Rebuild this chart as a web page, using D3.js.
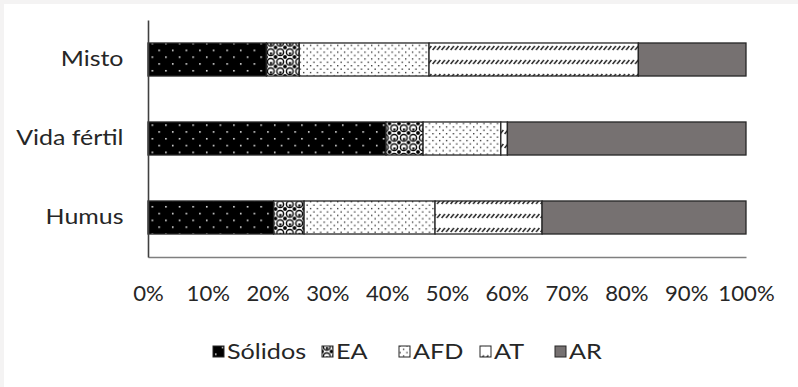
<!DOCTYPE html>
<html>
<head>
<meta charset="utf-8">
<script src="https://cdn.jsdelivr.net/npm/d3@7"></script>
<style>
  html, body { margin: 0; padding: 0; background: #fff; }
  svg { display: block; font-family: Lato, "Open Sans", sans-serif; }
</style>
</head>
<body>
<svg id="chart" width="798" height="387"></svg>
<script>
// Composition of each substrate (share of total volume)
const categories = ["Misto", "Vida fértil", "Humus"];
const seriesNames = ["Sólidos", "EA", "AFD", "AT", "AR"];
const solidos = [19.8, 39.8, 21.0];
const ea      = [5.5, 6.2, 5.1];
const afd     = [21.7, 13.0, 21.9];
const at      = [35.0, 1.1, 17.9];
const ar      = [18.0, 39.9, 34.1];
const tickValues = [0, 0.1, 0.2, 0.3, 0.4, 0.5, 0.6, 0.7, 0.8, 0.9, 1.0];

const seriesValues = [solidos, ea, afd, at, ar];
const rows = categories.map((c, i) => {
  const r = { cat: c };
  seriesNames.forEach((s, k) => r[s] = seriesValues[k][i] / 100);
  return r;
});

const svg = d3.select("#chart");
const W = 798, H = 387;

// page frame
svg.append("rect").attr("width", W).attr("height", H).attr("fill", "#f4f3f3");
svg.append("rect").attr("x", 4).attr("y", 4).attr("width", W - 4).attr("height", H - 4).attr("fill", "#fff");

// fill patterns
const defs = svg.append("defs");

// Sólidos: black with sparse white dots
const pS = defs.append("pattern").attr("id", "p-solidos").attr("patternUnits", "userSpaceOnUse")
  .attr("width", 13.6).attr("height", 13.6);
pS.append("rect").attr("width", 13.6).attr("height", 13.6).attr("fill", "#000");
pS.append("rect").attr("x", 2).attr("y", 2).attr("width", 1.5).attr("height", 1.5).attr("fill", "#fff");
pS.append("rect").attr("x", 8.8).attr("y", 8.8).attr("width", 1.5).attr("height", 1.5).attr("fill", "#fff");

// EA: sphere pattern (rings with dark joints)
const pE = defs.append("pattern").attr("id", "p-ea").attr("patternUnits", "userSpaceOnUse")
  .attr("width", 9.5).attr("height", 9.5);
pE.append("rect").attr("width", 9.5).attr("height", 9.5).attr("fill", "#fff");
pE.append("circle").attr("cx", 4.75).attr("cy", 4.75).attr("r", 3.4)
  .attr("fill", "none").attr("stroke", "#000").attr("stroke-width", 1.4);
pE.append("rect").attr("x", 3.9).attr("y", 5.0).attr("width", 2.2).attr("height", 2.2).attr("fill", "#000");
[[0, 0], [9.5, 0], [0, 9.5], [9.5, 9.5]].forEach(([cx, cy]) =>
  pE.append("circle").attr("cx", cx).attr("cy", cy).attr("r", 1.9).attr("fill", "#000"));

// AFD: white with dense black dots
const pA = defs.append("pattern").attr("id", "p-afd").attr("patternUnits", "userSpaceOnUse")
  .attr("width", 6.8).attr("height", 6.8);
pA.append("rect").attr("width", 6.8).attr("height", 6.8).attr("fill", "#fff");
pA.append("rect").attr("x", 0.5).attr("y", 0.5).attr("width", 1.3).attr("height", 1.3).attr("fill", "#222");
pA.append("rect").attr("x", 3.9).attr("y", 3.9).attr("width", 1.3).attr("height", 1.3).attr("fill", "#222");

// AT: white with short upward dashes
const pT = defs.append("pattern").attr("id", "p-at").attr("patternUnits", "userSpaceOnUse")
  .attr("width", 4.5).attr("height", 14);
pT.append("rect").attr("width", 4.5).attr("height", 14).attr("fill", "#fff");
pT.append("line").attr("x1", 0.6).attr("y1", 8).attr("x2", 3.9).attr("y2", 4)
  .attr("stroke", "#1a1a1a").attr("stroke-width", 1.4);

const fills = {
  "Sólidos": "url(#p-solidos)",
  "EA": "url(#p-ea)",
  "AFD": "url(#p-afd)",
  "AT": "url(#p-at)",
  "AR": "#767171"
};

// scales
const x = d3.scaleLinear().domain([0, 1]).range([148, 746]);
const y = d3.scaleBand().domain(categories).range([20, 257])
  .paddingInner(0.582).paddingOuter(0.291);

const stack = d3.stack().keys(seriesNames)(rows);

// bars
const gBars = svg.append("g");
stack.forEach(layer => {
  gBars.append("g").selectAll("rect").data(layer).join("rect")
    .attr("x", d => x(d[0]))
    .attr("y", d => y(d.data.cat))
    .attr("width", d => x(d[1]) - x(d[0]))
    .attr("height", y.bandwidth())
    .attr("fill", fills[layer.key])
    .attr("stroke", "#262626")
    .attr("stroke-width", 1.3);
});

// axes
const textColor = "#262626";
const xAxis = svg.append("g").attr("transform", "translate(0,257)")
  .call(d3.axisBottom(x).tickValues(tickValues).tickSize(0).tickFormat(d3.format(".0%")));
xAxis.select(".domain").attr("stroke", "#7f7f7f").attr("stroke-width", 1.3);
xAxis.selectAll("text")
  .attr("y", 0).attr("dy", "0.36em")
  .attr("transform", "translate(0,37) scale(1.08,1)")
  .attr("font-size", 20.5).attr("fill", textColor).attr("font-family", "Lato, sans-serif");

const yAxis = svg.append("g").attr("transform", "translate(148,0)")
  .call(d3.axisLeft(y).tickSize(0));
yAxis.select(".domain").attr("stroke", "#404040").attr("stroke-width", 1.6);
yAxis.selectAll("text")
  .attr("x", 0).attr("dy", "0.34em")
  .attr("transform", "translate(-24.5,-1) scale(1.16,1)")
  .attr("font-size", 21.5).attr("fill", textColor).attr("font-family", "Lato, sans-serif");

// legend
const legendX = [213, 322, 399, 480, 555];
const legend = svg.append("g").attr("transform", "translate(0,351.5)");
seriesNames.forEach((s, i) => {
  const g = legend.append("g").attr("transform", `translate(${legendX[i]},0)`);
  g.append("rect").attr("x", 0).attr("y", -5.5).attr("width", 11).attr("height", 11)
    .attr("fill", fills[s]).attr("stroke", "#262626").attr("stroke-width", 1);
  g.append("text").attr("x", 0).attr("y", 0).attr("dy", "0.36em")
    .attr("transform", "translate(14,0) scale(1.2,1)")
    .attr("font-size", 21).attr("fill", textColor).text(s);
});
</script>
</body>
</html>
